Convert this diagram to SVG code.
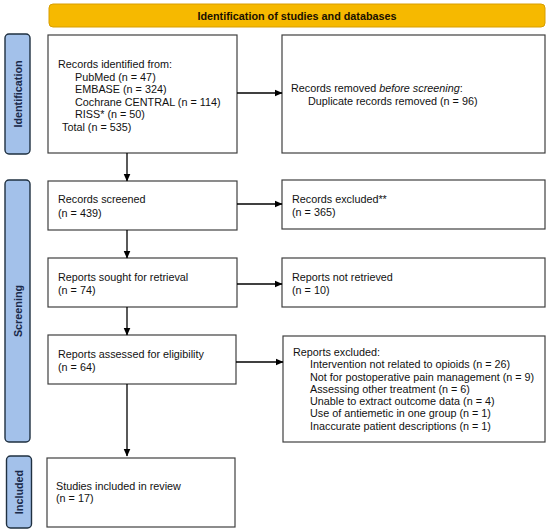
<svg xmlns="http://www.w3.org/2000/svg" width="550" height="532" viewBox="0 0 550 532">
<defs>
<marker id="ah" markerWidth="8" markerHeight="8" refX="7.5" refY="4" orient="auto" markerUnits="userSpaceOnUse">
<path d="M0,0.5 L8,4 L0,7.5 Z" fill="#000"/>
</marker>
<style>
.box{fill:#fff;stroke:#404040;stroke-width:1.2}
.side{fill:#a3c1ea;stroke:#1f3040;stroke-width:1.4}
.t{font-family:"Liberation Sans",Arial,sans-serif;font-size:10.8px;fill:#111}
.st{font-family:"Liberation Sans",Arial,sans-serif;font-size:10.8px;font-weight:bold;fill:#1a2a4a}
.ln{stroke:#000;stroke-width:1.3;fill:none;marker-end:url(#ah)}
</style>
</defs>
<rect width="550" height="532" fill="#fff"/>
<g id="banner">
<rect x="49" y="4" width="496" height="23" rx="4" fill="#f6b900" stroke="#d89e00" stroke-width="1"/>
<text x="297" y="19.5" text-anchor="middle" class="st" style="fill:#1a1000">Identification of studies and databases</text>
</g>
<g id="side-identification">
<rect x="5" y="34" width="25" height="120" rx="4" class="side"/>
<text transform="translate(21.5,94) rotate(-90)" text-anchor="middle" class="st">Identification</text>
</g>
<g id="side-screening">
<rect x="5" y="180" width="25" height="262" rx="4" class="side"/>
<text transform="translate(21.5,311) rotate(-90)" text-anchor="middle" class="st">Screening</text>
</g>
<g id="side-included">
<rect x="6.5" y="456" width="25" height="72" rx="4" class="side"/>
<text transform="translate(23,492) rotate(-90)" text-anchor="middle" class="st">Included</text>
</g>
<g id="records-identified">
<rect x="48" y="35" width="189" height="118" class="box"/>
<text class="t" x="58" y="68">Records identified from:</text>
<text class="t" x="75" y="80.5">PubMed (n = 47)</text>
<text class="t" x="75" y="93">EMBASE (n = 324)</text>
<text class="t" x="75" y="105.5">Cochrane CENTRAL (n = 114)</text>
<text class="t" x="75" y="118">RISS* (n = 50)</text>
<text class="t" x="62" y="130.5">Total (n = 535)</text>
</g>
<g id="records-removed">
<rect x="282" y="35" width="263" height="118" class="box"/>
<text class="t" x="291" y="92">Records removed <tspan font-style="italic">before screening</tspan>:</text>
<text class="t" x="308" y="104.5">Duplicate records removed (n = 96)</text>
</g>
<g id="records-screened">
<rect x="48" y="181" width="189" height="49" class="box"/>
<text class="t" x="58" y="203">Records screened</text>
<text class="t" x="58" y="216.5">(n = 439)</text>
</g>
<g id="records-excluded">
<rect x="282" y="180" width="263" height="49" class="box"/>
<text class="t" x="292" y="202.5">Records excluded**</text>
<text class="t" x="292" y="216">(n = 365)</text>
</g>
<g id="reports-sought">
<rect x="48" y="258" width="189" height="49" class="box"/>
<text class="t" x="58" y="281">Reports sought for retrieval</text>
<text class="t" x="58" y="293.5">(n = 74)</text>
</g>
<g id="reports-not-retrieved">
<rect x="282" y="258" width="263" height="49" class="box"/>
<text class="t" x="292" y="281">Reports not retrieved</text>
<text class="t" x="292" y="293.5">(n = 10)</text>
</g>
<g id="reports-assessed">
<rect x="48" y="335" width="188" height="49" class="box"/>
<text class="t" x="58" y="358">Reports assessed for eligibility</text>
<text class="t" x="58" y="370.5">(n = 64)</text>
</g>
<g id="reports-excluded">
<rect x="283" y="336" width="262" height="106" class="box"/>
<text class="t" x="293" y="356">Reports excluded:</text>
<text class="t" x="310" y="368">Intervention not related to opioids (n = 26)</text>
<text class="t" x="310" y="380.5">Not for postoperative pain management (n = 9)</text>
<text class="t" x="310" y="393">Assessing other treatment (n = 6)</text>
<text class="t" x="310" y="405">Unable to extract outcome data (n = 4)</text>
<text class="t" x="310" y="417">Use of antiemetic in one group (n = 1)</text>
<text class="t" x="310" y="429.5">Inaccurate patient descriptions (n = 1)</text>
</g>
<g id="studies-included">
<rect x="47" y="458" width="188" height="69" class="box"/>
<text class="t" x="56" y="490">Studies included in review</text>
<text class="t" x="56" y="501.5">(n = 17)</text>
</g>
<g id="connectors">
<line class="ln" x1="237" y1="93" x2="282" y2="93"/>
<line class="ln" x1="127" y1="153" x2="127" y2="181"/>
<line class="ln" x1="237" y1="204" x2="282" y2="204"/>
<line class="ln" x1="127" y1="230" x2="127" y2="258"/>
<line class="ln" x1="237" y1="284" x2="282" y2="284"/>
<line class="ln" x1="127" y1="307" x2="127" y2="335"/>
<line class="ln" x1="236" y1="362" x2="283" y2="362"/>
<line class="ln" x1="127" y1="384" x2="127" y2="456"/>
</g>
</svg>
